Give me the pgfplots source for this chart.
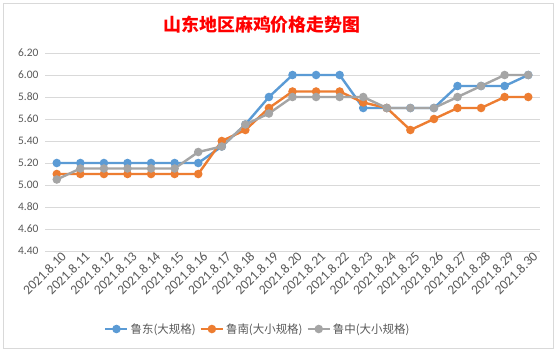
\documentclass[border=0pt]{standalone}
\usepackage{pgfplots}
\pgfplotsset{compat=1.18}
\usepackage{fontspec}
\setmainfont{Carlito}
\newfontfamily\cjk{Noto Sans CJK SC}
\definecolor{sblue}{HTML}{5B9BD5}
\definecolor{sorange}{HTML}{ED7D31}
\definecolor{sgray}{HTML}{A5A5A5}
\definecolor{txt}{HTML}{595959}
\definecolor{gridc}{HTML}{D9D9D9}
\begin{document}
\begin{tikzpicture}[x=1bp,y=1bp]
\fill[white] (0,0) rectangle (559,351);
\draw[gridc,line width=0.75bp] (3,3) rectangle (553,348);
\node[text=red,font=\cjk\bfseries\fontsize{18}{20}\selectfont] at (262,326) {山东地区麻鸡价格走势图};
\begin{axis}[
  at={(45bp,100bp)}, anchor=south west,
  scale only axis, width=495bp, height=198bp,
  xmin=-0.5, xmax=20.5, ymin=4.4, ymax=6.2,
  xtick={0,...,20},
  xticklabels={2021.8.10,2021.8.11,2021.8.12,2021.8.13,2021.8.14,2021.8.15,2021.8.16,2021.8.17,2021.8.18,2021.8.19,2021.8.20,2021.8.21,2021.8.22,2021.8.23,2021.8.24,2021.8.25,2021.8.26,2021.8.27,2021.8.28,2021.8.29,2021.8.30},
  ytick={4.4,4.6,4.8,5.0,5.2,5.4,5.6,5.8,6.0,6.2},
  /pgf/number format/fixed, /pgf/number format/fixed zerofill, /pgf/number format/precision=2,
  /pgf/number format/assume math mode=true,
  major tick length=0pt,
  axis line style={draw=none},
  ymajorgrids, grid style={gridc, line width=0.75bp},
  tick label style={text=txt, font=\fontsize{11.5}{13}\selectfont},
  x tick label style={rotate=45, anchor=east, inner sep=1bp, xshift=4bp, yshift=-7bp, font=\fontsize{13.5}{15}\selectfont},
  y tick label style={xshift=-3bp},
  legend style={at={(0.43,-0.394)}, anchor=center, draw=none, fill=none, legend columns=3,
    font=\cjk\fontsize{11.5}{13}\selectfont, text=txt,
    /tikz/every even column/.append style={column sep=2bp}},
  legend image code/.code={\draw[#1] (0bp,0bp) -- (22bp,0bp); \draw[#1,mark repeat=2,mark phase=2] plot coordinates {(0bp,0bp) (11bp,0bp) (22bp,0bp)};},
  every axis plot/.append style={line width=2.4bp, mark=*, mark size=3bp},
]
\addplot[sblue, mark options={fill=sblue, draw=sblue}] coordinates {
(0,5.20)(1,5.20)(2,5.20)(3,5.20)(4,5.20)(5,5.20)(6,5.20)(7,5.35)(8,5.55)(9,5.80)(10,6.00)(11,6.00)(12,6.00)(13,5.70)(14,5.70)(15,5.70)(16,5.70)(17,5.90)(18,5.90)(19,5.90)(20,6.00)};
\addlegendentry{鲁东(大规格)}
\addplot[sorange, mark options={fill=sorange, draw=sorange}] coordinates {
(0,5.10)(1,5.10)(2,5.10)(3,5.10)(4,5.10)(5,5.10)(6,5.10)(7,5.40)(8,5.50)(9,5.70)(10,5.85)(11,5.85)(12,5.85)(13,5.75)(14,5.70)(15,5.50)(16,5.60)(17,5.70)(18,5.70)(19,5.80)(20,5.80)};
\addlegendentry{鲁南(大小规格)}
\addplot[sgray, mark options={fill=sgray, draw=sgray}] coordinates {
(0,5.05)(1,5.15)(2,5.15)(3,5.15)(4,5.15)(5,5.15)(6,5.30)(7,5.35)(8,5.55)(9,5.65)(10,5.80)(11,5.80)(12,5.80)(13,5.80)(14,5.70)(15,5.70)(16,5.70)(17,5.80)(18,5.90)(19,6.00)(20,6.00)};
\addlegendentry{鲁中(大小规格)}
\end{axis}
\end{tikzpicture}
\end{document}
